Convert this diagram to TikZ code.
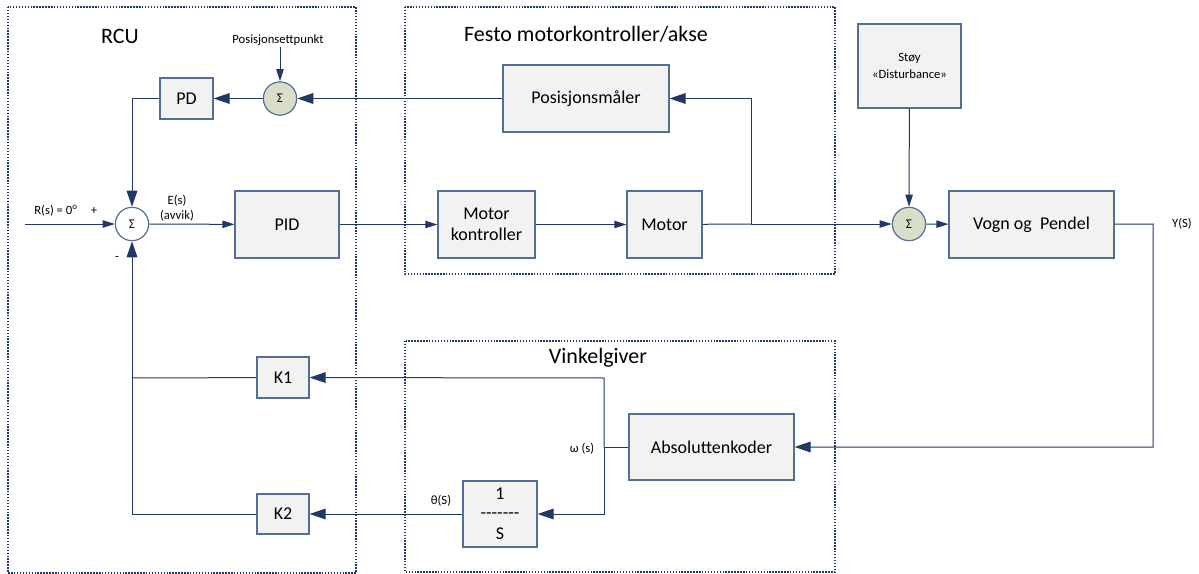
\documentclass[tikz,border=0pt]{standalone}
\usepackage{fontspec}
\setmainfont{Carlito}
\usetikzlibrary{arrows.meta}
\definecolor{lnavy}{RGB}{31,56,100}
\definecolor{bordr}{RGB}{84,110,148}
\definecolor{boxfill}{RGB}{242,242,242}
\definecolor{sumgreen}{RGB}{216,222,200}

\begin{document}
\begin{tikzpicture}[x=0.75pt,y=0.75pt,yscale=-1,xscale=1,
  blk/.style={draw=bordr,fill=boxfill,line width=0.9pt,inner sep=0pt,align=center,font=\fontsize{13.5}{16}\selectfont},
  sumn/.style={circle,draw=bordr,fill=white,line width=0.9pt,minimum size=25pt,inner sep=0pt,font=\fontsize{10}{12}\selectfont},
  lbl/.style={inner sep=0.75pt,align=center,font=\fontsize{9.5}{11.5}\selectfont},
  ttl/.style={inner sep=0.75pt,font=\fontsize{16.5}{19}\selectfont},
  grp/.style={draw=lnavy,line width=1pt,dash pattern=on 1.1pt off 1.1pt},
  sig/.style={draw=lnavy,line width=0.75pt},
  bigarr/.style={sig,-{Triangle[length=12pt,width=8pt]}},
  smlarr/.style={sig,-{Triangle[length=9pt,width=5.5pt]}}]
\useasboundingbox (0,0) rectangle (1199,574);

%Shape: group frames
\draw [grp] (8,7) rectangle (356,573);
\draw [grp] (405,7) rectangle (835,274);
\draw [grp] (405,341) rectangle (835,572);

% Text Node
\node [ttl] (rcu) at (120,36) {RCU};
% Text Node
\node [ttl] (festo) at (586,34) {Festo motorkontroller/akse};
% Text Node
\node [ttl] (vinkel) at (598,358) {Vinkelgiver};

%Shape: blocks
\node [blk,minimum width=39.75pt,minimum height=30.75pt] (pd) at (186.5,98.5) {PD};
\node [blk,minimum width=78pt,minimum height=50.25pt] (pid) at (287,224.5) {PID};
\node [blk,minimum width=124.5pt,minimum height=50.25pt] (posm) at (586,98.5) {Posisjonsmåler};
\node [blk,minimum width=72.75pt,minimum height=50.25pt] (mkontr) at (486.5,224.5) {Motor\\kontroller};
\node [blk,minimum width=56.25pt,minimum height=50.25pt] (motor) at (664.5,224.5) {Motor};
\node [blk,minimum width=77.25pt,minimum height=63pt,font=\fontsize{9.5}{13}\selectfont] (stoy) at (909.5,66) {Støy\\«Disturbance»};
\node [blk,minimum width=123.75pt,minimum height=50.25pt] (vogn) at (1031.5,224.5) {Vogn og\ \ Pendel};
\node [blk,minimum width=123.75pt,minimum height=49.5pt] (abskod) at (711.5,447) {Absoluttenkoder};
\node [blk,minimum width=39pt,minimum height=30.75pt] (k1) at (283,377.5) {K1};
\node [blk,minimum width=39pt,minimum height=30pt] (k2) at (283,514) {K2};
\node [blk,minimum width=55.5pt,minimum height=49.5pt,font=\fontsize{13.5}{17}\selectfont] (integ) at (500,514) {1\\[-3pt]-{}-{}-{}-{}-{}-{}-\\[-1pt]S};

%Shape: summation points
\node [sumn] (mainsum) at (132,224) {Σ};
\node [sumn,fill=sumgreen] (possum) at (280,98.5) {Σ};
\node [sumn,fill=sumgreen] (distsum) at (909,224) {Σ};

% Text Node
\node [lbl] (setpt) at (278,40) {Posisjonsettpunkt};
% Text Node
\node [lbl] (rlbl) at (56,211) {R(s) = 0\textsuperscript{o}};
% Text Node
\node [lbl] (plus) at (94,211) {+};
% Text Node
\node [lbl] (minus) at (117,258) {-};
% Text Node
\node [lbl] (elbl) at (177,208) {E(s)\\(avvik)};
% Text Node
\node [lbl] (ylbl) at (1182,224) {Y(S)};
% Text Node
\node [lbl] (wlbl) at (582,449) {ω (s)};
% Text Node
\node [lbl] (tlbl) at (441,501) {θ(S)};

%Shape: free ends and branch points
\coordinate (rin) at (25,224);
\coordinate (mbranch) at (751,224);
\coordinate (yout) at (1153,224);
\coordinate (wbranch) at (604,447);
\coordinate (wtop) at (604,378);
\coordinate (wbot) at (604,514);
\coordinate (k1end) at (132,378);

%Connectors: forward path
\draw [smlarr] (rin) -- (mainsum);
\draw [smlarr] (mainsum) -- (pid);
\draw [smlarr] (pid) -- (mkontr);
\draw [smlarr] (mkontr) -- (motor);
\draw [sig] (motor) -- (mbranch);
\draw [smlarr] (mbranch) -- (distsum);
\draw [smlarr] (stoy) -- (distsum);
\draw [smlarr] (distsum) -- (vogn);

%Connectors: position loop
\draw [bigarr] (mbranch) |- (posm);
\draw [bigarr] (posm) -- (possum);
\draw [smlarr] (setpt.south -| possum.north) -- (possum);
\draw [bigarr] (possum) -- (pd);
\draw [bigarr] (pd) -| (mainsum);

%Connectors: angle loop
\draw [bigarr] (vogn) -- (yout) |- (abskod);
\draw [sig] (abskod) -- (wbranch);
\draw [bigarr] (wbranch) -- (wtop) -- (k1);
\draw [bigarr] (wbranch) -- (wbot) -- (integ);
\draw [bigarr] (integ) -- (k2);
\draw [sig] (k1) -- (k1end);
\draw [bigarr] (k2) -| (mainsum);

\end{tikzpicture}
\end{document}
